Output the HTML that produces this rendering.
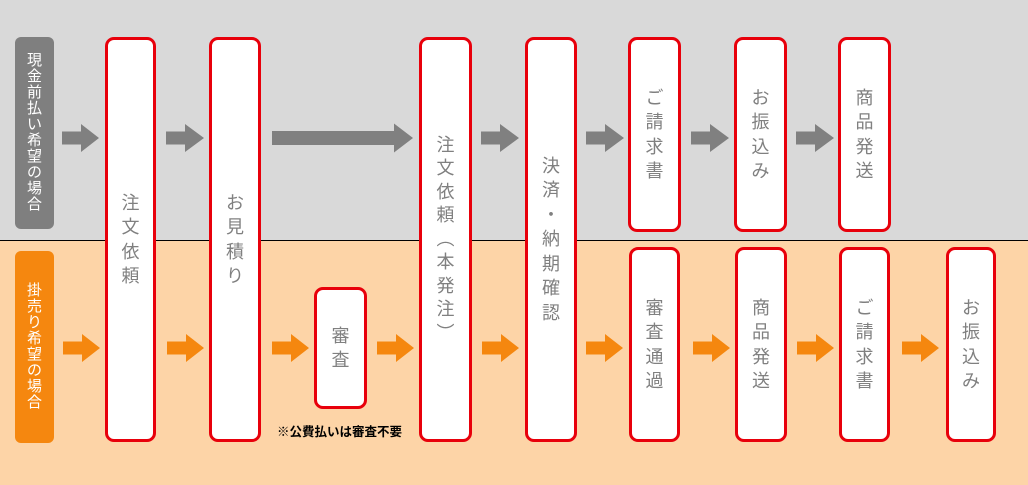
<!DOCTYPE html>
<html><head><meta charset="utf-8">
<style>
html,body{margin:0;padding:0;}
body{width:1028px;height:485px;position:relative;overflow:hidden;background:#FDD4A7;font-family:"Liberation Sans","Noto Sans CJK JP",sans-serif;}
.top{position:absolute;left:0;top:0;width:1028px;height:240px;background:#D9D9D9;}
.sep{position:absolute;left:0;top:240px;width:1028px;height:1px;background:#000;}
.box{position:absolute;box-sizing:border-box;border:3px solid #E8000B;border-radius:9px;background:#fff;display:flex;flex-direction:column;align-items:center;justify-content:center;color:#808080;font-size:18px;}
.box span{display:block;height:24.5px;line-height:24.5px;text-align:center;}
.lab{position:absolute;box-sizing:border-box;border-radius:6px;display:flex;flex-direction:column;align-items:center;justify-content:center;color:#fff;font-size:15px;}
.lab span{display:block;height:16px;line-height:16px;}
svg{position:absolute;left:0;top:0;}
.note{position:absolute;left:277px;top:424px;font-size:12.5px;line-height:16px;color:#000;font-weight:bold;white-space:nowrap;}
</style></head><body>
<div class="top"></div>
<div class="sep"></div>

<svg width="1028" height="485" viewBox="0 0 1028 485">
<g fill="#808080">
<polygon points="62,131.5 81,131.5 81,124 99,138 81,152 81,144.5 62,144.5"/>
<polygon points="166,131.5 185,131.5 185,124 204,138 185,152 185,144.5 166,144.5"/>
<polygon points="272,131 394,131 394,123.5 413,138 394,152.5 394,145 272,145"/>
<polygon points="481,131.5 500,131.5 500,124 519,138 500,152 500,144.5 481,144.5"/>
<polygon points="586,131.5 605,131.5 605,124 624,138 605,152 605,144.5 586,144.5"/>
<polygon points="691,131.5 710,131.5 710,124 729,138 710,152 710,144.5 691,144.5"/>
<polygon points="796,131.5 815,131.5 815,124 834,138 815,152 815,144.5 796,144.5"/>
</g>
<g fill="#F5870F">
<polygon points="63,341.5 82,341.5 82,334 100,348 82,362 82,354.5 63,354.5"/>
<polygon points="167,341.5 186,341.5 186,334 204,348 186,362 186,354.5 167,354.5"/>
<polygon points="272,341.5 291,341.5 291,334 309,348 291,362 291,354.5 272,354.5"/>
<polygon points="377,341.5 396,341.5 396,334 414,348 396,362 396,354.5 377,354.5"/>
<polygon points="482,341.5 501,341.5 501,334 519,348 501,362 501,354.5 482,354.5"/>
<polygon points="586,341.5 605,341.5 605,334 623,348 605,362 605,354.5 586,354.5"/>
<polygon points="693,341.5 712,341.5 712,334 730,348 712,362 712,354.5 693,354.5"/>
<polygon points="797,341.5 816,341.5 816,334 834,348 816,362 816,354.5 797,354.5"/>
<polygon points="902,341.5 921,341.5 921,334 939,348 921,362 921,354.5 902,354.5"/>
</g>
</svg>

<div class="lab" style="left:15px;top:37px;width:39px;height:192px;background:#7F7F7F;">
<span>現</span><span>金</span><span>前</span><span>払</span><span>い</span><span>希</span><span>望</span><span>の</span><span>場</span><span>合</span>
</div>
<div class="lab" style="left:15px;top:251px;width:39px;height:192px;background:#F5870F;">
<span>掛</span><span>売</span><span>り</span><span>希</span><span>望</span><span>の</span><span>場</span><span>合</span>
</div>

<!-- tall boxes -->
<div class="box" style="left:105px;top:37px;width:51px;height:405px;"><span>注</span><span>文</span><span>依</span><span>頼</span></div>
<div class="box" style="left:209px;top:37px;width:52px;height:405px;"><span>お</span><span>見</span><span>積</span><span>り</span></div>
<div class="box" style="left:419px;top:37px;width:53px;height:405px;"><span style="height:23.5px;line-height:23.5px">注</span><span style="height:23.5px;line-height:23.5px">文</span><span style="height:23.5px;line-height:23.5px">依</span><span style="height:23.5px;line-height:23.5px">頼</span><span style="height:23.5px;line-height:23.5px">︵</span><span style="height:23.5px;line-height:23.5px">本</span><span style="height:23.5px;line-height:23.5px">発</span><span style="height:23.5px;line-height:23.5px">注</span><span style="height:23.5px;line-height:23.5px">︶</span></div>
<div class="box" style="left:525px;top:37px;width:52px;height:405px;"><span>決</span><span>済</span><span>・</span><span>納</span><span>期</span><span>確</span><span>認</span></div>

<!-- upper short boxes -->
<div class="box" style="left:628px;top:37px;width:53px;height:195px;"><span>ご</span><span>請</span><span>求</span><span>書</span></div>
<div class="box" style="left:734px;top:37px;width:53px;height:195px;"><span>お</span><span>振</span><span>込</span><span>み</span></div>
<div class="box" style="left:838px;top:37px;width:53px;height:195px;"><span>商</span><span>品</span><span>発</span><span>送</span></div>

<!-- lower boxes -->
<div class="box" style="left:314px;top:287px;width:53px;height:122px;"><span>審</span><span>査</span></div>
<div class="box" style="left:629px;top:247px;width:51px;height:195px;"><span>審</span><span>査</span><span>通</span><span>過</span></div>
<div class="box" style="left:735px;top:247px;width:52px;height:195px;"><span>商</span><span>品</span><span>発</span><span>送</span></div>
<div class="box" style="left:839px;top:247px;width:51px;height:195px;"><span>ご</span><span>請</span><span>求</span><span>書</span></div>
<div class="box" style="left:946px;top:247px;width:50px;height:195px;"><span>お</span><span>振</span><span>込</span><span>み</span></div>

<div class="note">※公費払いは審査不要</div>
</body></html>
